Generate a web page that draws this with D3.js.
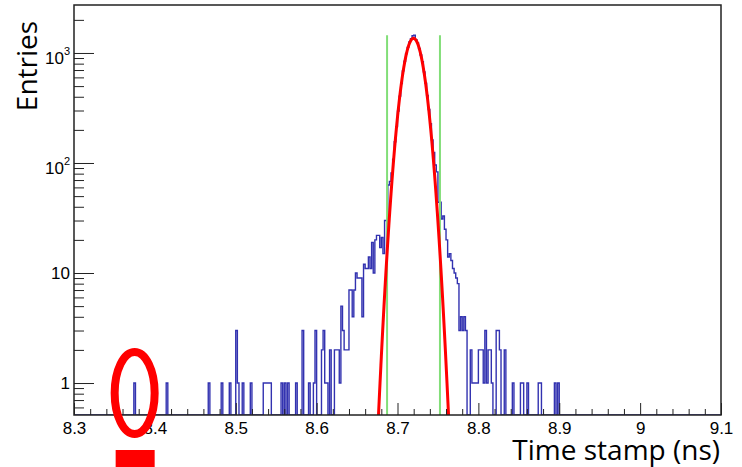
<!DOCTYPE html>
<html>
<head>
<meta charset="utf-8">
<script src="https://cdn.jsdelivr.net/npm/d3@7"></script>
<style>
  html, body { margin: 0; padding: 0; background: #ffffff; }
  svg { display: block; }
</style>
</head>
<body>
<svg id="chart" width="742" height="467"></svg>
<script>
// Time-stamp histogram: 400 bins of 2 ps between 8.3 and 9.1 ns
const histLow = 8.3;
const histHigh = 9.1;
const binWidth = 0.002;

// Isolated entries far below the peak (bin index, entries)
const leftTailBins   = [37, 57, 83, 91, 96, 100, 101, 104, 109, 117, 118, 119, 120, 121, 128, 130, 132, 137, 141, 145, 148, 149];
const leftTailCounts = [ 1,  1,  1,  1,  1,   3,   1,   1,   1,   1,   1,   1,   1,   1,   1,   1,   1,   1,   3,   1,   1,   3];

// Contiguous entries around the peak, starting at bin 153
const coreFirstBin = 153;
const coreCounts = [
  2, 3, 1, 1, 0, 2, 0, 0, 2, 2,          // 153-162
  2, 1, 5, 3, 2, 2, 2, 7, 7, 4,          // 163-172
  7, 10, 9, 9, 9, 4, 12, 11, 11, 14,     // 173-182
  11, 19, 10, 20, 22, 22, 17, 21, 15, 30, // 183-192
  30, 63, 68, 81, 108, 156, 214, 296, 405, 528,          // 193-202
  688, 842, 990, 1124, 1262, 1348, 1436, 1452, 1318, 1235, // 203-212
  1098, 958, 832, 674, 531, 412, 306, 228, 162, 125,       // 213-222
  96, 83, 44, 44, 31, 33, 25, 20, 14, 15, // 223-232
  13, 11, 10, 9, 8, 3, 4, 3, 4, 3,       // 233-242
  0, 0, 2, 1, 1, 1, 1, 2, 2, 2,          // 243-252
  1, 3, 1, 2, 2, 1, 0, 0, 3, 3,          // 253-262
  2, 0, 0, 2                             // 263-266
];

// Isolated entries above the peak
const rightTailBins   = [271, 276, 277, 280, 287, 288, 297, 299];
const rightTailCounts = [  1,   1,   1,   1,   1,   1,   1,   1];

// Gaussian fit to the peak and the +-3 sigma selection window
const fitConstant = 1360;
const fitMean = 8.7198;
const fitSigma = 0.0109;
const cutSigmas = 3;

// Axis ticks
const xTickValues = [8.3, 8.4, 8.5, 8.6, 8.7, 8.8, 8.9, 9.0, 9.1];
const yMajorTicks = [1, 10, 100, 1000];
const yDomain = [0.512, 2730];

const xTitle = "Time stamp (ns)";
const yTitle = "Entries";

// ---------------------------------------------------------------
const W = 742, H = 467;
const margin = { top: 5, right: 21, bottom: 52, left: 74 };
const plotW = W - margin.left - margin.right;
const plotH = H - margin.top - margin.bottom;

const nBins = Math.round((histHigh - histLow) / binWidth);
const counts = new Array(nBins).fill(0);
leftTailBins.forEach((b, i) => { counts[b] = leftTailCounts[i]; });
coreCounts.forEach((c, i) => { counts[coreFirstBin + i] = c; });
rightTailBins.forEach((b, i) => { counts[b] = rightTailCounts[i]; });

const svg = d3.select("#chart");
const g = svg.append("g").attr("transform", `translate(${margin.left},${margin.top})`);

const x = d3.scaleLinear().domain([histLow, histHigh]).range([0, plotW]);
const y = d3.scaleLog().domain(yDomain).range([plotH, 0]);

svg.append("defs").append("clipPath").attr("id", "plotClip")
  .append("rect").attr("x", 0).attr("y", 0).attr("width", plotW).attr("height", plotH);

const plot = g.append("g").attr("clip-path", "url(#plotClip)");

// Histogram outline (empty bins fall to the bottom of the log axis)
const yOf = c => (c > 0 ? y(c) : plotH);
let d = `M${x(histLow)},${plotH}`;
counts.forEach((c, i) => {
  const x0 = x(histLow + i * binWidth), x1 = x(histLow + (i + 1) * binWidth);
  d += `L${x0},${yOf(c)}L${x1},${yOf(c)}`;
});
d += `L${x(histHigh)},${plotH}`;
plot.append("path")
  .attr("d", d)
  .attr("fill", "none")
  .attr("stroke", "#3232b0")
  .attr("stroke-width", 1.4)
  .attr("stroke-linejoin", "miter");

// Selection window lines
const cutTop = d3.max(counts);
[fitMean - cutSigmas * fitSigma, fitMean + cutSigmas * fitSigma].forEach(xc => {
  plot.append("line")
    .attr("x1", x(xc)).attr("x2", x(xc))
    .attr("y1", plotH).attr("y2", y(cutTop))
    .attr("stroke", "#82de78")
    .attr("stroke-width", 2);
});

// Gaussian fit curve
const fitXs = d3.range(fitMean - 6 * fitSigma, fitMean + 6 * fitSigma, fitSigma / 20);
const gauss = t => fitConstant * Math.exp(-0.5 * Math.pow((t - fitMean) / fitSigma, 2));
plot.append("path")
  .datum(fitXs)
  .attr("d", d3.line().x(t => x(t)).y(t => y(Math.max(gauss(t), 1e-3))))
  .attr("fill", "none")
  .attr("stroke", "#ff0000")
  .attr("stroke-width", 3)
  .attr("stroke-linejoin", "round");

// Frame
g.append("rect")
  .attr("x", 0).attr("y", 0).attr("width", plotW).attr("height", plotH)
  .attr("fill", "none").attr("stroke", "#222").attr("stroke-width", 1.5);

const tickFont = "'Liberation Sans', Arial, Helvetica, sans-serif";

// X axis: minor ticks every 0.02, major every 0.1
const xMinor = d3.range(0, 41).map(i => histLow + i * 0.02).filter(v => Math.abs(Math.round(v * 10) - v * 10) > 1e-6);
const xMinorAxis = g.append("g").attr("transform", `translate(0,${plotH})`)
  .call(d3.axisBottom(x).tickValues(xMinor).tickSizeInner(-6).tickSizeOuter(0).tickFormat(""));
const xMajorAxis = g.append("g").attr("transform", `translate(0,${plotH})`)
  .call(d3.axisBottom(x).tickValues(xTickValues).tickSizeInner(-12).tickSizeOuter(0)
    .tickFormat(v => String(+v.toFixed(1))));
[xMinorAxis, xMajorAxis].forEach(a => {
  a.select(".domain").remove();
  a.selectAll(".tick line").attr("stroke", "#222");
});
xMajorAxis.selectAll(".tick text")
  .attr("y", 19).attr("dy", 0)
  .attr("font-family", tickFont).attr("font-size", 17).attr("fill", "#000");

// Y axis: log decades with 2..9 minor ticks
const yMinor = [];
[0.1, 1, 10, 100, 1000].forEach(dec => {
  for (let k = 2; k <= 9; k++) {
    const v = k * dec;
    if (v >= yDomain[0] && v <= yDomain[1]) yMinor.push(v);
  }
});
const yMinorAxis = g.append("g")
  .call(d3.axisLeft(y).tickValues(yMinor).tickSizeInner(-10).tickSizeOuter(0).tickFormat(""));
const yMajorAxis = g.append("g")
  .call(d3.axisLeft(y).tickValues(yMajorTicks).tickSizeInner(-20).tickSizeOuter(0).tickFormat(""));
[yMinorAxis, yMajorAxis].forEach(a => {
  a.select(".domain").remove();
  a.selectAll(".tick line").attr("stroke", "#222");
});
yMajorAxis.selectAll(".tick text").each(function(v) {
  const t = d3.select(this)
    .attr("x", -4)
    .attr("font-family", tickFont).attr("font-size", 17).attr("fill", "#000");
  const e = Math.round(Math.log10(v));
  if (e <= 1) {
    t.attr("dy", "0.32em").text(String(v));
  } else {
    t.attr("dy", "0.6em").text(null);
    t.append("tspan").text("10");
    t.append("tspan").attr("dy", "-0.75em").attr("font-size", 11).text(String(e));
  }
});

// Axis titles
const titleFont = "'Open Sans', 'Liberation Sans', sans-serif";
svg.append("text")
  .attr("x", 720).attr("y", 460)
  .attr("text-anchor", "end")
  .attr("font-family", titleFont).attr("font-size", 28).attr("fill", "#000")
  .text(xTitle);
svg.append("text")
  .attr("transform", "translate(37,66) rotate(-90)")
  .attr("text-anchor", "middle")
  .attr("font-family", titleFont).attr("font-size", 28).attr("fill", "#000")
  .text(yTitle);

// Highlight of the earliest isolated entry
const markBin = leftTailBins[0];
const markX = margin.left + x(histLow + (markBin + 0.5) * binWidth);
const markY = margin.top + y(leftTailCounts[0]);
svg.append("ellipse")
  .attr("cx", markX).attr("cy", markY + 10)
  .attr("rx", 20).attr("ry", 41)
  .attr("fill", "none").attr("stroke", "#ff0000").attr("stroke-width", 8);
svg.append("rect")
  .attr("x", markX - 19).attr("y", 450)
  .attr("width", 39).attr("height", 17)
  .attr("fill", "#ff0000");
</script>
</body>
</html>
